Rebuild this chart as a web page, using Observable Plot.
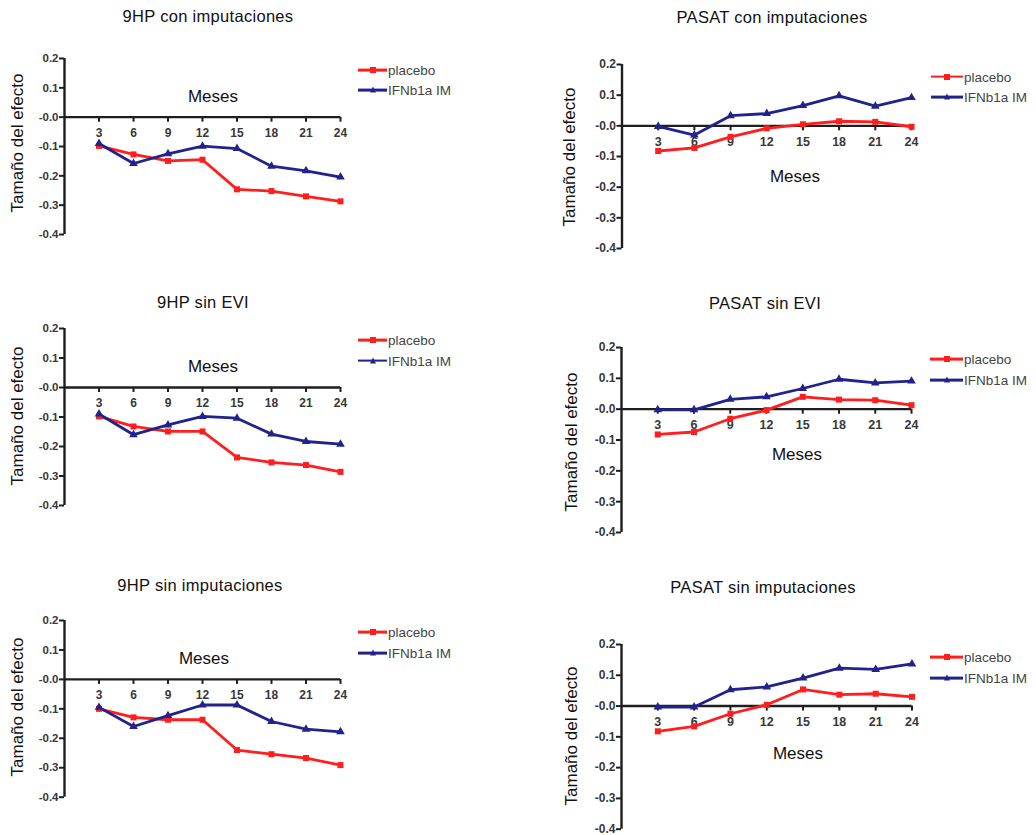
<!DOCTYPE html>
<html>
<head>
<meta charset="utf-8">
<script src="https://cdn.jsdelivr.net/npm/d3@7"></script>
<script src="https://cdn.jsdelivr.net/npm/@observablehq/plot@0.6"></script>
<style>
  html, body { margin: 0; padding: 0; background: #fff; }
  body { font-family: "Liberation Sans", Arial, sans-serif; }
  #root { position: relative; width: 1036px; height: 835px; overflow: hidden; background: #fff; }
  .abs { position: absolute; }
  .title { font-size: 16.5px; color: #111; transform: translate(-50%, -50%); white-space: nowrap; letter-spacing: 0.3px; }
  .meses { font-size: 17px; color: #111; transform: translate(-50%, -50%); white-space: nowrap; }
  .ytitle { font-size: 17px; color: #111; transform: translate(-50%, -50%) rotate(-90deg); white-space: nowrap; }
  .leg-line { position: absolute; height: 2.8px; transform: translateY(-50%); }
  .leg-text { position: absolute; font-size: 13.5px; color: #444; transform: translateY(-50%); white-space: nowrap; }
  .leg-sq { position: absolute; width: 6px; height: 6px; transform: translate(-50%, -50%); }
  .leg-tri { position: absolute; width: 0; height: 0; border-left: 3.5px solid transparent; border-right: 3.5px solid transparent; transform: translate(-50%, -60%); }
  .plotbox { position: absolute; }
  .plotbox svg { max-width: none !important; overflow: visible; }
</style>
</head>
<body>
<div id="root"></div>
<script>
// ---------------- DATA ----------------
const months = [3, 6, 9, 12, 15, 18, 21, 24];
const yTicks = [-0.4, -0.3, -0.2, -0.1, 0, 0.1, 0.2];
const yTickLabels = ["-0.4", "-0.3", "-0.2", "-0.1", "-0.0", "0.1", "0.2"];
const seriesNames = ["placebo", "IFNb1a IM"];
const panelTitles = [
  "9HP con imputaciones", "PASAT con imputaciones",
  "9HP sin EVI", "PASAT sin EVI",
  "9HP sin imputaciones", "PASAT sin imputaciones"
];
const xLabel = "Meses";
const yLabel = "Tamaño del efecto";

const hpConPlacebo    = [-0.098, -0.127, -0.149, -0.145, -0.246, -0.252, -0.270, -0.287];
const hpConIfn        = [-0.090, -0.158, -0.125, -0.099, -0.107, -0.167, -0.183, -0.204];
const pasatConPlacebo = [-0.082, -0.072, -0.036, -0.008, 0.005, 0.015, 0.013, -0.003];
const pasatConIfn     = [-0.002, -0.030, 0.033, 0.040, 0.066, 0.098, 0.064, 0.092];
const hpEviPlacebo    = [-0.098, -0.132, -0.149, -0.149, -0.237, -0.254, -0.263, -0.286];
const hpEviIfn        = [-0.090, -0.160, -0.127, -0.098, -0.104, -0.158, -0.183, -0.192];
const pasatEviPlacebo = [-0.082, -0.074, -0.031, -0.003, 0.040, 0.031, 0.029, 0.013];
const pasatEviIfn     = [-0.002, -0.002, 0.032, 0.040, 0.067, 0.097, 0.085, 0.091];
const hpSinPlacebo    = [-0.100, -0.129, -0.137, -0.137, -0.240, -0.254, -0.267, -0.291];
const hpSinIfn        = [-0.095, -0.160, -0.123, -0.087, -0.087, -0.143, -0.169, -0.178];
const pasatSinPlacebo = [-0.082, -0.066, -0.025, 0.004, 0.054, 0.037, 0.040, 0.030];
const pasatSinIfn     = [-0.003, -0.003, 0.053, 0.062, 0.091, 0.123, 0.119, 0.137];

const panelSeries = [
  [hpConPlacebo, hpConIfn], [pasatConPlacebo, pasatConIfn],
  [hpEviPlacebo, hpEviIfn], [pasatEviPlacebo, pasatEviIfn],
  [hpSinPlacebo, hpSinIfn], [pasatSinPlacebo, pasatSinIfn]
];

// ---------------- LAYOUT / STYLE ----------------
const RED = "#ff1e1e";
const BLUE = "#22228c";
const AXIS = "#1e1e1e";
const TICKTXT = "#383838";

// x0: pixel of month 0, x24: pixel of month 24, yTop: pixel of 0.2, yBot: pixel of -0.4
const layouts = [
  {svgLeft: 0,   x0: 64,    x24: 340, yTop: 58,    yBot: 234,   title: [208, 16],  meses: [213, 97],  ytitle: [18, 143],  leg: [358, 387, 70, 90],   tick: 11.5},
  {svgLeft: 560, x0: 621.5, x24: 911, yTop: 64.3,  yBot: 248.3, title: [772, 17],  meses: [795, 177], ytitle: [570, 157], leg: [931, 963, 76.7, 97.3], tick: 12},
  {svgLeft: 0,   x0: 64,    x24: 340, yTop: 327.7, yBot: 504.7, title: [203, 302], meses: [213, 367], ytitle: [18, 416],  leg: [358, 387, 340, 360.7], tick: 11.5},
  {svgLeft: 560, x0: 621,   x24: 911, yTop: 346.7, yBot: 531.7, title: [765, 303], meses: [797, 455], ytitle: [572, 442], leg: [930, 963, 359, 380],   tick: 12},
  {svgLeft: 0,   x0: 64,    x24: 340, yTop: 620,   yBot: 796.7, title: [200, 585], meses: [204, 659], ytitle: [18, 707],  leg: [358, 387, 632.3, 653.3], tick: 11.5},
  {svgLeft: 560, x0: 621,   x24: 911.5, yTop: 644, yBot: 828.7, title: [763, 587], meses: [798, 754], ytitle: [572, 736], leg: [930, 963, 657.3, 678.3], tick: 12}
];

const root = document.getElementById("root");

function addDiv(cls, text, x, y) {
  const d = document.createElement("div");
  d.className = "abs " + cls;
  if (text != null) d.textContent = text;
  d.style.left = x + "px";
  d.style.top = y + "px";
  root.appendChild(d);
  return d;
}

function tickLabel(d) {
  const i = yTicks.findIndex(t => Math.abs(t - d) < 1e-9);
  return i >= 0 ? yTickLabels[i] : "";
}

panelSeries.forEach(([plac, ifn], k) => {
  const L = layouts[k];
  const rows = [];
  months.forEach((m, i) => {
    rows.push({m, v: plac[i], s: seriesNames[0]});
    rows.push({m, v: ifn[i], s: seriesNames[1]});
  });
  const padT = 12, padB = 12, padR = 8;
  const plot = Plot.plot({
    width: L.x24 - L.svgLeft + padR,
    height: (L.yBot - L.yTop) + padT + padB,
    marginLeft: L.x0 - L.svgLeft,
    marginRight: padR,
    marginTop: padT,
    marginBottom: padB,
    x: {domain: [0, 24], axis: null},
    y: {domain: [-0.4, 0.2], axis: null},
    color: {domain: seriesNames, range: [RED, BLUE]},
    style: {background: "transparent", overflow: "visible", fontFamily: "'Liberation Sans', Arial, sans-serif"},
    marks: [
      // y axis: line, ticks, labels
      Plot.ruleX([0], {y1: -0.4, y2: 0.2, stroke: AXIS, strokeWidth: 2.4}),
      Plot.ruleY(yTicks, {y: d => d, x1: 0, x2: 0, insetLeft: -5, stroke: AXIS, strokeWidth: 2}),
      Plot.text(yTicks, {x: 0, y: d => d, dx: -6, textAnchor: "end", text: tickLabel, fontSize: L.tick, fontWeight: "bold", fill: TICKTXT}),
      // x axis at zero: line, ticks, labels
      Plot.ruleY([0], {x1: 0, x2: 24, stroke: AXIS, strokeWidth: 2.4}),
      Plot.ruleX(months, {x: d => d, y1: 0, y2: 0, insetBottom: -5, stroke: AXIS, strokeWidth: 2}),
      Plot.text(months, {x: d => d, y: 0, dy: 16, text: d => String(d), fontSize: L.tick + 0.5, fontWeight: "bold", fill: TICKTXT}),
      // series
      Plot.line(rows, {x: "m", y: "v", z: "s", stroke: "s", strokeWidth: 2.8}),
      Plot.dot(rows.filter(r => r.s === seriesNames[0]), {x: "m", y: "v", fill: "s", symbol: "square", r: 3.4}),
      Plot.dot(rows.filter(r => r.s === seriesNames[1]), {x: "m", y: "v", fill: "s", symbol: "triangle", r: 3.2})
    ]
  });
  const box = document.createElement("div");
  box.className = "plotbox";
  box.style.left = L.svgLeft + "px";
  box.style.top = (L.yTop - padT) + "px";
  box.appendChild(plot);
  root.appendChild(box);

  // titles and labels
  addDiv("title", panelTitles[k], L.title[0], L.title[1]);
  addDiv("meses", xLabel, L.meses[0], L.meses[1]);
  addDiv("ytitle", yLabel, L.ytitle[0], L.ytitle[1]);

  // legend
  const [lx1, lx2, ly1, ly2] = L.leg;
  const cols = [RED, BLUE];
  [ly1, ly2].forEach((ly, j) => {
    const line = addDiv("leg-line", null, lx1, ly);
    line.style.width = (lx2 - lx1) + "px";
    line.style.background = cols[j];
    const mk = addDiv(j === 0 ? "leg-sq" : "leg-tri", null, (lx1 + lx2) / 2, ly);
    if (j === 0) mk.style.background = cols[j];
    else mk.style.borderBottom = "6px solid " + cols[j];
    addDiv("leg-text", seriesNames[j], lx2 + 1, ly);
  });
});
</script>
</body>
</html>
